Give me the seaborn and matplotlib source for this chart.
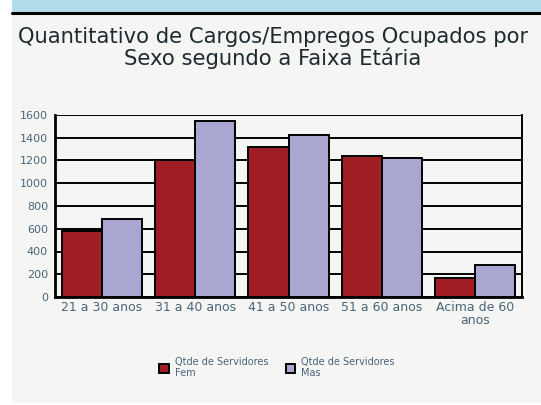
import pandas as pd
import matplotlib
matplotlib.use("Agg")
from matplotlib import pyplot as plt
from matplotlib.patches import Rectangle
import seaborn as sns

faixas = ["21 a 30 anos", "31 a 40 anos", "41 a 50 anos", "51 a 60 anos", "Acima de 60\nanos"]
fem = [580, 1200, 1320, 1240, 170]
mas = [690, 1550, 1420, 1220, 280]
series = ["Qtde de Servidores\nFem", "Qtde de Servidores\nMas"]
cores = ["#a01d23", "#a9a7d1"]

df = pd.DataFrame({
    "Faixa": faixas * 2,
    "Qtde": fem + mas,
    "Sexo": [series[0]] * len(faixas) + [series[1]] * len(faixas),
})

sns.set_style("white")
plt.rcParams["font.family"] = ["DejaVu Sans"]

fig = plt.figure(figsize=(5.41, 4.05), dpi=100)
fig.patch.set_facecolor("white")

# painel de fundo, faixa azul e linha preta no topo
fig.patches.append(Rectangle((12 / 541, 0.005), 1, 1, transform=fig.transFigure,
                             facecolor="#f5f6f4", edgecolor="none", zorder=-3))
fig.patches.append(Rectangle((12 / 541, 1 - 12 / 405), 1, 12 / 405, transform=fig.transFigure,
                             facecolor="#b3dcea", edgecolor="none", zorder=-2))
fig.add_artist(plt.Line2D([12 / 541, 1], [1 - 13 / 405] * 2, color="black", lw=2.2))

fig.text(0.504, 1 - 37 / 405, "Quantitativo de Cargos/Empregos Ocupados por",
         ha="center", va="center", fontsize=15.2, color="#1e2a30")
fig.text(0.504, 1 - 58 / 405, "Sexo segundo a Faixa Etária",
         ha="center", va="center", fontsize=15.2, color="#1e2a30")

ax = fig.add_axes([55 / 541, 1 - 297 / 405, (522 - 55) / 541, (297 - 115) / 405])
ax.set_facecolor("#f5f6f4")
sns.barplot(data=df, x="Faixa", y="Qtde", hue="Sexo", palette=cores, width=0.86,
            edgecolor="black", linewidth=1.4, saturation=1, ax=ax, zorder=3)

ax.set_ylim(0, 1600)
ax.set_yticks(range(0, 1601, 200))
ax.yaxis.grid(True, color="black", lw=1.4, zorder=0)
ax.set_axisbelow(True)
for s in ["left", "bottom"]:
    ax.spines[s].set_color("black")
    ax.spines[s].set_linewidth(2)
ax.spines["right"].set_color("black")
ax.spines["right"].set_linewidth(1.4)
ax.spines["top"].set_visible(False)
ax.set_xlabel("")
ax.set_ylabel("")
ax.tick_params(axis="y", labelsize=8, colors="#4a6478", length=3, width=1.2, pad=2)
ax.tick_params(axis="x", labelsize=9, colors="#4a6478", length=0, pad=3)
for t in ax.get_xticklabels():
    t.set_linespacing(1.0)

leg = ax.legend(loc="upper center", bbox_to_anchor=(0.475, -0.28), ncol=2, frameon=False,
                fontsize=7, handlelength=1.0, handleheight=1.0, columnspacing=1.8,
                handletextpad=0.6, labelcolor="#4a6478")

fig.savefig("out.png", dpi=100, facecolor=fig.get_facecolor())
